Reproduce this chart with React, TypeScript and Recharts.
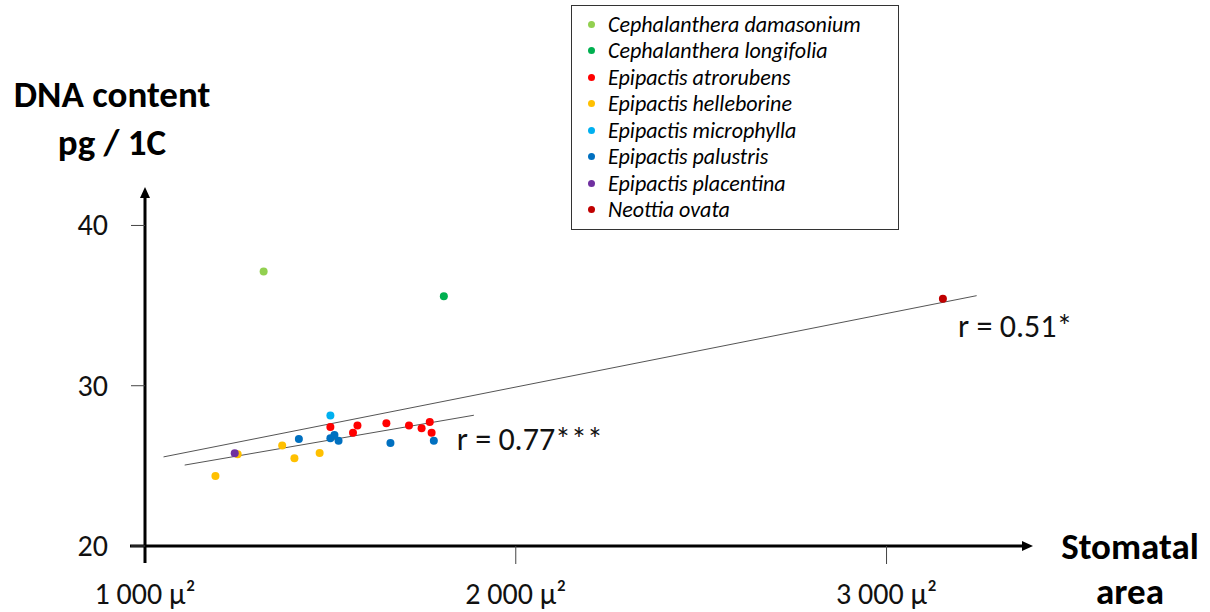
import React from "react";
import { ScatterChart, Scatter, XAxis, YAxis, ReferenceLine, ReferenceDot } from "recharts";

const FONT = "Carlito, Calibri, Lato, sans-serif";

const speciesNames = [
  "Cephalanthera damasonium",
  "Cephalanthera longifolia",
  "Epipactis atrorubens",
  "Epipactis helleborine",
  "Epipactis microphylla",
  "Epipactis palustris",
  "Epipactis placentina",
  "Neottia ovata",
];
const speciesColors = ["#92D050", "#00B050", "#FF0000", "#FFC000", "#00B0F0", "#0070C0", "#7030A0", "#C00000"];

const cephDamasonium = [{ x: 1320, y: 37.13 }];
const cephLongifolia = [{ x: 1806, y: 35.58 }];
const epiAtrorubens = [
  { x: 1500, y: 27.43 },
  { x: 1573, y: 27.52 },
  { x: 1561, y: 27.06 },
  { x: 1651, y: 27.66 },
  { x: 1712, y: 27.52 },
  { x: 1746, y: 27.35 },
  { x: 1768, y: 27.73 },
  { x: 1773, y: 27.06 },
];
const epiHelleborine = [
  { x: 1190, y: 24.36 },
  { x: 1250, y: 25.73 },
  { x: 1370, y: 26.27 },
  { x: 1403, y: 25.48 },
  { x: 1471, y: 25.81 },
];
const epiMicrophylla = [{ x: 1500, y: 28.14 }];
const epiPalustris = [
  { x: 1415, y: 26.67 },
  { x: 1500, y: 26.73 },
  { x: 1511, y: 26.93 },
  { x: 1522, y: 26.56 },
  { x: 1662, y: 26.42 },
  { x: 1779, y: 26.56 },
];
const epiPlacentina = [{ x: 1242, y: 25.79 }];
const neottiaOvata = [{ x: 3152, y: 35.43 }];

const seriesData = [
  cephDamasonium,
  cephLongifolia,
  epiAtrorubens,
  epiHelleborine,
  epiMicrophylla,
  epiPalustris,
  epiPlacentina,
  neottiaOvata,
];

const fitAll = [{ x: 1050, y: 25.56 }, { x: 3243, y: 35.62 }];
const fitEpipactis = [{ x: 1107, y: 25.05 }, { x: 1887, y: 28.16 }];
const rAll = { x: 3193, y: 33.02, text: "r = 0.51*" };
const rEpipactis = { x: 1841, y: 25.98, text: "r = 0.77***" };

const xTicks = [1000, 2000, 3000];
const yTicks = [20, 30, 40];
const xDomain = [1000, 3395];
const yDomain = [20, 42.4];

const fmtX = (v: number) => {
  const s = String(v);
  return s.slice(0, s.length - 3) + " " + s.slice(-3) + " \u03bc\u00b2";
};

const XTick = (props: any) => {
  const { x, y, payload } = props;
  const v = payload.value;
  return (
    <g>
      {v !== xDomain[0] && <line x1={x} x2={x} y1={y} y2={y + 18} stroke="#444" strokeWidth={1} />}
      <text x={x} y={y + 58} textAnchor="middle" fontFamily={FONT} fontSize={30} fill="#111">
        {fmtX(v)}
      </text>
    </g>
  );
};

const YTick = (props: any) => {
  const { x, y, payload } = props;
  return (
    <g>
      <line x1={x - 14} x2={x} y1={y} y2={y} stroke="#444" strokeWidth={1} />
      <text x={x - 37} y={y + 10} textAnchor="end" fontFamily={FONT} fontSize={30} fill="#111">
        {payload.value}
      </text>
    </g>
  );
};

const XAxisArrow = (props: any) => {
  const { x1, y1, x2 } = props;
  return (
    <g>
      <line x1={x1 - 15} x2={x2 - 8} y1={y1} y2={y1} stroke="#000" strokeWidth={3} />
      <polygon points={`${x2},${y1} ${x2 - 11},${y1 - 5} ${x2 - 11},${y1 + 5}`} fill="#000" />
    </g>
  );
};

const YAxisArrow = (props: any) => {
  const { x1, y1, y2 } = props;
  const top = Math.min(y1, y2);
  const bottom = Math.max(y1, y2);
  return (
    <g>
      <line x1={x1} x2={x1} y1={bottom + 17} y2={top + 8} stroke="#000" strokeWidth={3} />
      <polygon points={`${x1},${top} ${x1 - 5},${top + 11} ${x1 + 5},${top + 11}`} fill="#000" />
    </g>
  );
};

const FitLine = (props: any) => {
  const { x1, y1, x2, y2 } = props;
  return <line x1={x1} y1={y1} x2={x2} y2={y2} stroke="#555" strokeWidth={1} />;
};

const RLabel = (text: string) => (props: any) => (
  <text x={props.cx} y={props.cy} fontFamily={FONT} fontSize={32} fill="#111">
    {text}
  </text>
);

export default function App() {
  return (
    <div style={{ position: "absolute", left: 0, top: 0, width: 1210, height: 612, background: "#fff", overflow: "hidden" }}>
      <ScatterChart width={1210} height={612} margin={{ top: 187, right: 177, bottom: 6, left: 85 }}>
        <XAxis
          type="number"
          dataKey="x"
          domain={xDomain}
          ticks={xTicks}
          allowDataOverflow
          axisLine={false}
          tickLine={false}
          tickSize={0}
          tickMargin={0}
          height={60}
          tick={<XTick />}
          interval={0}
        />
        <YAxis
          type="number"
          dataKey="y"
          domain={yDomain}
          ticks={yTicks}
          allowDataOverflow
          axisLine={false}
          tickLine={false}
          tickSize={0}
          tickMargin={0}
          width={60}
          tick={<YTick />}
          interval={0}
        />
        <ReferenceLine segment={fitAll} ifOverflow="visible" shape={<FitLine />} />
        <ReferenceLine segment={fitEpipactis} ifOverflow="visible" shape={<FitLine />} />
        <ReferenceLine
          segment={[{ x: xDomain[0], y: yDomain[0] }, { x: xDomain[1], y: yDomain[0] }]}
          ifOverflow="visible"
          shape={<XAxisArrow />}
        />
        <ReferenceLine
          segment={[{ x: xDomain[0], y: yDomain[0] }, { x: xDomain[0], y: yDomain[1] }]}
          ifOverflow="visible"
          shape={<YAxisArrow />}
        />
        {seriesData.map((d, i) => (
          <Scatter
            key={speciesNames[i]}
            name={speciesNames[i]}
            data={d}
            fill={speciesColors[i]}
            isAnimationActive={false}
            shape={(p: any) => <circle cx={p.cx} cy={p.cy} r={4} fill={speciesColors[i]} />}
          />
        ))}
        <ReferenceDot x={rAll.x} y={rAll.y} r={0} ifOverflow="visible" shape={RLabel(rAll.text)} />
        <ReferenceDot x={rEpipactis.x} y={rEpipactis.y} r={0} ifOverflow="visible" shape={RLabel(rEpipactis.text)} />
      </ScatterChart>

      <div
        style={{
          position: "absolute",
          left: 0,
          top: 71,
          width: 224,
          textAlign: "center",
          fontFamily: FONT,
          fontWeight: 700,
          fontSize: 37,
          lineHeight: "48px",
          color: "#000",
        }}
      >
        <div>DNA content</div>
        <div>pg / 1C</div>
      </div>

      <div
        style={{
          position: "absolute",
          left: 1040,
          top: 525,
          width: 180,
          textAlign: "center",
          fontFamily: FONT,
          fontWeight: 700,
          fontSize: 37,
          color: "#000",
        }}
      >
        <div style={{ height: 48, lineHeight: "44px" }}>Stomatal</div>
        <div style={{ lineHeight: "37px" }}>area</div>
      </div>

      <div
        style={{
          position: "absolute",
          left: 571,
          top: 5,
          width: 328,
          height: 225,
          border: "1px solid #333",
          boxSizing: "border-box",
          background: "#fff",
          paddingTop: 5,
        }}
      >
        {speciesNames.map((n, i) => (
          <div
            key={n}
            style={{
              display: "flex",
              alignItems: "center",
              height: 26.5,
              fontFamily: FONT,
              fontStyle: "italic",
              fontSize: 22,
              color: "#000",
            }}
          >
            <span
              style={{
                display: "inline-block",
                width: 7,
                height: 7,
                borderRadius: "50%",
                background: speciesColors[i],
                marginLeft: 16,
                marginRight: 13,
              }}
            />
            <span>{n}</span>
          </div>
        ))}
      </div>
    </div>
  );
}
